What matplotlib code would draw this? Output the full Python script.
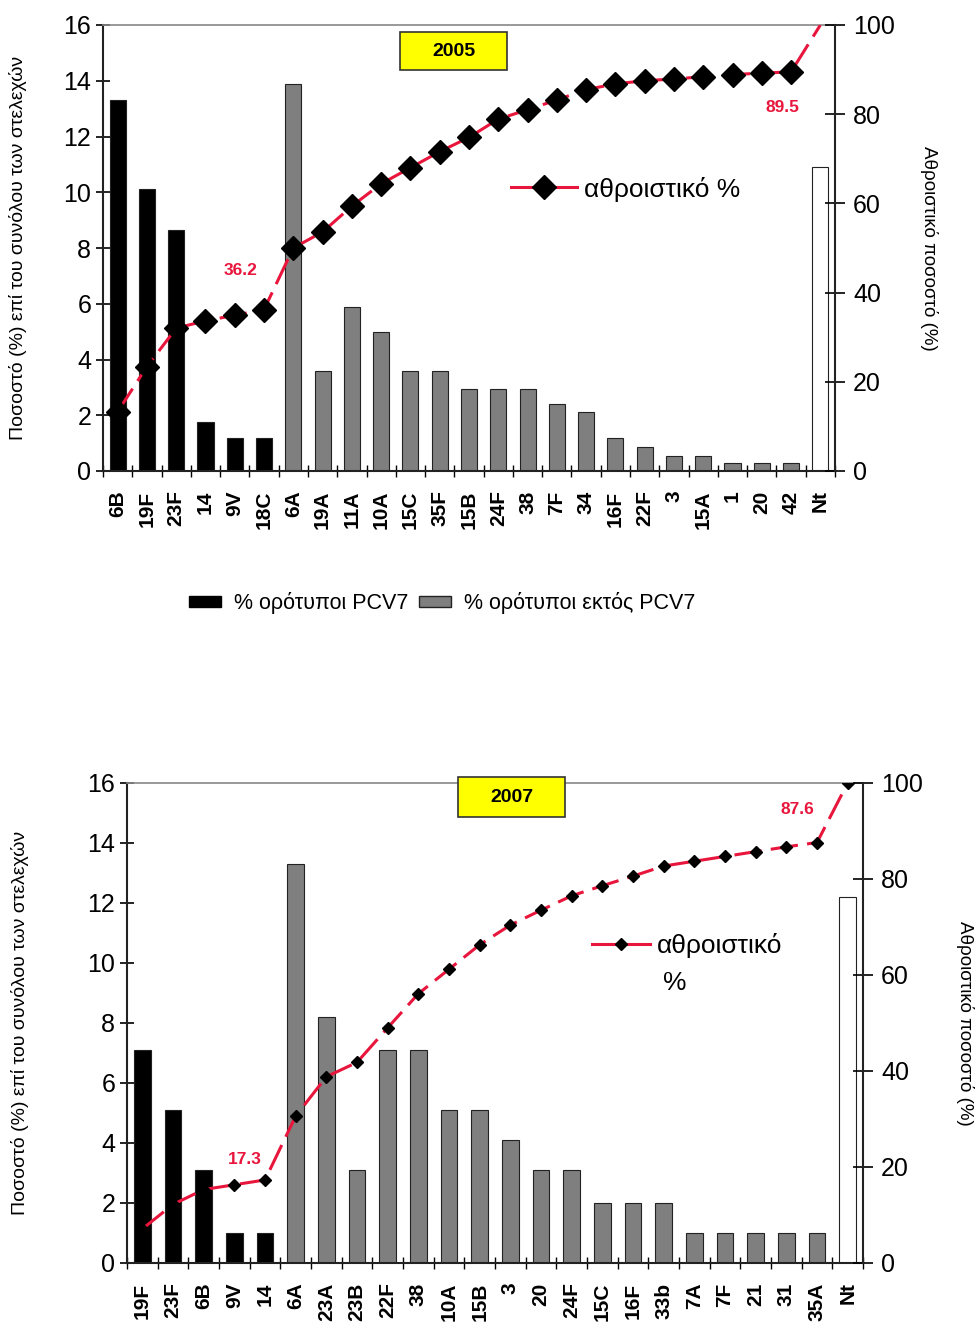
import matplotlib
matplotlib.use("Agg")
import matplotlib.pyplot as plt
from matplotlib.patches import Rectangle, Patch
from matplotlib.lines import Line2D
import numpy as np

plt.rcParams['font.family'] = ['Liberation Sans', 'DejaVu Sans']

# ---------------- 2005 data ----------------
cats05 = ['6B', '19F', '23F', '14', '9V', '18C', '6A', '19A', '11A', '10A', '15C', '35F',
          '15B', '24F', '38', '7F', '34', '16F', '22F', '3', '15A', '1', '20', '42', 'Nt']
vals05 = [13.3, 10.1, 8.65, 1.75, 1.2, 1.2, 13.9, 3.6, 5.9, 5.0, 3.6, 3.6,
          2.95, 2.95, 2.95, 2.4, 2.1, 1.2, 0.85, 0.55, 0.55, 0.3, 0.3, 0.3, 10.9]
group05 = ['pcv'] * 6 + ['non'] * 18 + ['nt']
cum05 = [13.3, 23.4, 32.0, 33.7, 34.9, 36.2, 50.0, 53.6, 59.4, 64.4, 68.0, 71.6,
         74.8, 78.9, 81.0, 83.2, 85.5, 86.8, 87.5, 87.9, 88.4, 88.9, 89.2, 89.5, 100.0]

# ---------------- 2007 data ----------------
cats07 = ['19F', '23F', '6B', '9V', '14', '6A', '23A', '23B', '22F', '38', '10A', '15B',
          '3', '20', '24F', '15C', '16F', '33b', '7A', '7F', '21', '31', '35A', 'Nt']
vals07 = [7.1, 5.1, 3.1, 1.0, 1.0, 13.3, 8.2, 3.1, 7.1, 7.1, 5.1, 5.1,
          4.1, 3.1, 3.1, 2.0, 2.0, 2.0, 1.0, 1.0, 1.0, 1.0, 1.0, 12.2]
group07 = ['pcv'] * 5 + ['non'] * 18 + ['nt']
cum07 = [7.1, 12.2, 15.3, 16.3, 17.3, 30.6, 38.8, 41.8, 49.0, 56.1, 61.2, 66.3,
         70.4, 73.5, 76.5, 78.6, 80.6, 82.7, 83.7, 84.7, 85.7, 86.7, 87.6, 100.0]

label_left = 'Ποσοστό (%) επί του συνόλου των στελεχών'
label_right = 'Αθροιστικό ποσοστό (%)'
leg_cum = 'αθροιστικό %'
leg_pcv = '% ορότυποι PCV7'
leg_non = '% ορότυποι εκτός PCV7'

face = {'pcv': 'black', 'non': '#7f7f7f', 'nt': 'white'}
RED = '#e8163c'

fig = plt.figure(figsize=(9.77, 13.36), dpi=100)


def draw(rect, cats, vals, groups, cum, year, ylab_x, yrlab_x, box, msize, lbls,
         legend_cfg, last_marker):
    ax = fig.add_axes(rect)
    n = len(cats)
    x = np.arange(n)
    colors = [face[g] for g in groups]
    ax.bar(x, vals, width=0.55, color=colors, edgecolor='#222222', linewidth=0.8, zorder=2)
    ax.set_xlim(-0.5, n - 0.5)
    ax.set_ylim(0, 16)
    ax.set_yticks(range(0, 17, 2))
    ax.set_xticks(x)
    ax.set_xticklabels(cats, rotation=90, fontsize=15, fontweight='bold')
    ax.set_xticks(np.arange(n + 1) - 0.5, minor=True)
    ax.tick_params(axis='x', which='major', length=0, pad=14)
    ax.tick_params(axis='x', which='minor', direction='inout', length=9, width=1)
    ax.tick_params(axis='y', direction='inout', length=10, width=1.2, labelsize=18)
    for s in ['left', 'bottom']:
        ax.spines[s].set_linewidth(1.5)
        ax.spines[s].set_color('#222222')
    ax.spines['top'].set_color('#888888')
    ax.spines['top'].set_linewidth(1.2)
    ax.spines['right'].set_visible(False)
    ax.set_ylabel(label_left, fontsize=14)
    ax.yaxis.set_label_coords(ylab_x, 0.5)

    ax2 = ax.twinx()
    ax2.set_ylim(0, 100)
    ax2.set_yticks(range(0, 101, 20))
    ax2.tick_params(axis='y', direction='inout', length=14, width=1.2, labelsize=18, pad=6)
    ax2.spines['right'].set_linewidth(1.5)
    ax2.spines['right'].set_color('#222222')
    for s in ['left', 'top', 'bottom']:
        ax2.spines[s].set_visible(False)
    me = list(range(n)) if last_marker else list(range(n - 1))
    ax2.plot(x, cum, color=RED, linewidth=2.2, dashes=(9, 3), marker='D',
             markersize=msize, markerfacecolor='black', markeredgecolor='black',
             markevery=me, zorder=5)
    ax2.set_ylabel(label_right, fontsize=13.5, rotation=-90)
    ax2.yaxis.set_label_coords(yrlab_x, 0.5)

    for (lx, ly, t) in lbls:
        ax2.text(lx, ly, t, color=RED, fontsize=12.5, fontweight='bold', ha='center',
                 va='center')

    # yellow year box
    x0, x1, y0, y1 = box
    ax.add_patch(Rectangle((x0, y0), x1 - x0, y1 - y0, transform=ax.transAxes,
                           facecolor='#ffff00', edgecolor='#333333', linewidth=1.2,
                           clip_on=False, zorder=6))
    ax.text((x0 + x1) / 2, (y0 + y1) / 2, year, transform=ax.transAxes, ha='center',
            va='center', fontsize=14, fontweight='bold', zorder=7)

    label, anchor, fsz, hl = legend_cfg
    h = Line2D([], [], color=RED, linewidth=2.2, marker='D', markersize=msize,
               markerfacecolor='black', markeredgecolor='black')
    ax2.legend([h], [label], loc='center left', bbox_to_anchor=anchor, frameon=False,
               fontsize=fsz, handlelength=hl, handletextpad=0.25, borderaxespad=0,
               borderpad=0)
    return ax, ax2


# 2005 chart
ax_a, ax_a2 = draw([103 / 977, 1 - 471 / 1336, 732 / 977, 446 / 1336],
                   cats05, vals05, group05, cum05, '2005', -0.104, 1.141,
                   (0.406, 0.552, 0.899, 0.984), 12,
                   [(4.2, 45.0, '36.2'), (22.7, 81.6, '89.5')],
                   (leg_cum, (0.558, 0.632), 19, 2.5), False)

# 2007 chart
ax_b, ax_b2 = draw([127 / 977, 1 - 1263 / 1336, 736 / 977, 480 / 1336],
                   cats07, vals07, group07, cum07, '2007', -0.133, 1.151,
                   (0.450, 0.595, 0.929, 1.0125), 6,
                   [(3.35, 21.5, '17.3'), (21.35, 94.4, '87.6')],
                   ('αθροιστικό', (0.632, 0.662), 19, 2.2), True)
ax_b2.text(0.728, 0.583, '%', transform=ax_b2.transAxes, fontsize=19, ha='left',
           va='center')

# bottom legend for the 2005 chart
hp = [Patch(facecolor='black', edgecolor='black'),
      Patch(facecolor='#7f7f7f', edgecolor='#222222')]
fig.legend(hp, [leg_pcv, leg_non], loc='center', bbox_to_anchor=(442 / 977, 1 - 603 / 1336),
           ncol=2, frameon=False, fontsize=15.5, handlelength=1.5, handleheight=0.4,
           handletextpad=0.6, columnspacing=0.5)

fig.savefig('out.png', dpi=100)
